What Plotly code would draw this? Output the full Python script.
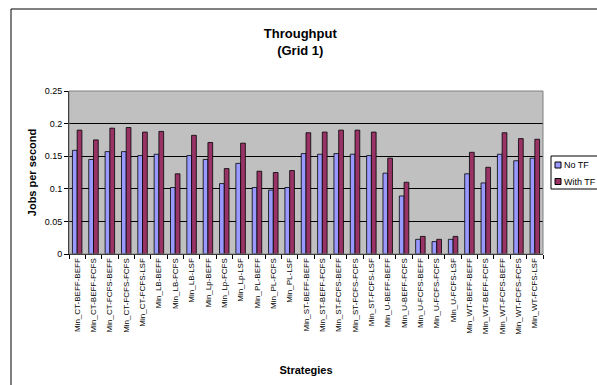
import plotly.graph_objects as go

categories = [
    "Min_CT-BEFF-BEFF", "Min_CT-BEFF-FCFS", "Min_CT-FCFS-BEFF", "Min_CT-FCFS-FCFS", "Min_CT-FCFS-LSF",
    "Min_LB-BEFF", "Min_LB-FCFS", "Min_LB-LSF",
    "Min_Lp-BEFF", "Min_Lp-FCFS", "Min_Lp-LSF",
    "Min_PL-BEFF", "Min_PL-FCFS", "Min_PL-LSF",
    "Min_ST-BEFF-BEFF", "Min_ST-BEFF-FCFS", "Min_ST-FCFS-BEFF", "Min_ST-FCFS-FCFS", "Min_ST-FCFS-LSF",
    "Min_U-BEFF-BEFF", "Min_U-BEFF-FCFS", "Min_U-FCFS-BEFF", "Min_U-FCFS-FCFS", "Min_U-FCFS-LSF",
    "Min_WT-BEFF-BEFF", "Min_WT-BEFF-FCFS", "Min_WT-FCFS-BEFF", "Min_WT-FCFS-FCFS", "Min_WT-FCFS-LSF",
]

no_tf = [0.159, 0.145, 0.157, 0.157, 0.151,
         0.153, 0.102, 0.151,
         0.145, 0.108, 0.139,
         0.102, 0.098, 0.102,
         0.154, 0.153, 0.154, 0.153, 0.151,
         0.124, 0.089, 0.0225, 0.019, 0.0225,
         0.123, 0.109, 0.153, 0.143, 0.147]

with_tf = [0.190, 0.175, 0.193, 0.194, 0.187,
           0.188, 0.123, 0.182,
           0.171, 0.131, 0.170,
           0.127, 0.125, 0.128,
           0.186, 0.187, 0.190, 0.190, 0.187,
           0.147, 0.110, 0.027, 0.0225, 0.027,
           0.156, 0.133, 0.186, 0.177, 0.176]

series_names = ["No TF", "With TF"]
series_colors = ["#9999FF", "#993366"]

y_ticks = [0, 0.05, 0.1, 0.15, 0.2, 0.25]
y_tick_labels = ["0", "0.05", "0.1", "0.15", "0.2", "0.25"]

FONT = "Liberation Sans, Arial, sans-serif"

# plot area in pixels
W, H = 597, 385
L, R, T, B = 69, 543, 91, 254
PW, PH = R - L, B - T


def px(xp):
    return (xp - L) / PW


def py(yp):
    return (B - yp) / PH


fig = go.Figure()
for name, vals, col in zip(series_names, [no_tf, with_tf], series_colors):
    fig.add_trace(go.Bar(x=categories, y=vals, name=name, showlegend=False,
                         marker=dict(color=col, line=dict(color="#000000", width=0.8))))

fig.update_layout(
    width=W, height=H,
    margin=dict(l=L, r=W - R, t=T, b=H - B),
    paper_bgcolor="white",
    plot_bgcolor="#C0C0C0",
    barmode="group",
    bargap=0.42,
    bargroupgap=0.0,
    font=dict(family=FONT, color="black"),
    title=dict(text="<b>Throughput<br>(Grid 1)</b>", x=0.503, xanchor="center",
               y=1 - 38 / H, yanchor="middle",
               font=dict(size=13, family=FONT)),
    showlegend=False,
    xaxis=dict(
        title=dict(text="<b>Strategies</b>", font=dict(size=11, family=FONT), standoff=32),
        tickangle=-90, tickfont=dict(size=8, family=FONT),
        ticks="outside", ticklen=4, tickcolor="black", tickson="boundaries",
        showline=True, linecolor="black", linewidth=1, showgrid=False,
    ),
    yaxis=dict(
        title=dict(text="<b>Jobs per second</b>", font=dict(size=11, family=FONT), standoff=5),
        range=[0, 0.25], tickvals=y_ticks, ticktext=y_tick_labels,
        tickfont=dict(size=9, family=FONT),
        ticks="outside", ticklen=4, tickcolor="black",
        showline=True, linecolor="black", linewidth=1,
        showgrid=True, gridcolor="black", gridwidth=1, zeroline=False,
    ),
)

# outer chart border
fig.add_shape(type="rect", xref="paper", yref="paper",
              x0=px(11), x1=px(605), y0=py(395), y1=py(9),
              line=dict(color="black", width=1), layer="below")
# plot area border
fig.add_shape(type="rect", xref="paper", yref="paper", x0=0, x1=1, y0=0, y1=1,
              line=dict(color="#808080", width=1), layer="above")

# custom legend (Excel style)
fig.add_shape(type="rect", xref="paper", yref="paper",
              x0=px(551), x1=px(610), y0=py(189), y1=py(156),
              line=dict(color="black", width=1), fillcolor="white", layer="above")
for i, (name, col) in enumerate(zip(series_names, series_colors)):
    yc = 165 + i * 16.5
    fig.add_shape(type="rect", xref="paper", yref="paper",
                  x0=px(555), x1=px(561), y0=py(yc + 3), y1=py(yc - 3),
                  line=dict(color="black", width=1), fillcolor=col, layer="above")
    fig.add_annotation(text=name, xref="paper", yref="paper", x=px(562), y=py(yc),
                       xanchor="left", yanchor="middle", showarrow=False,
                       font=dict(size=9, family=FONT, color="black"))

fig.write_html("out.html",
               config={"displayModeBar": False},
               post_script="document.body.style.margin='0';document.body.style.overflow='hidden';")
